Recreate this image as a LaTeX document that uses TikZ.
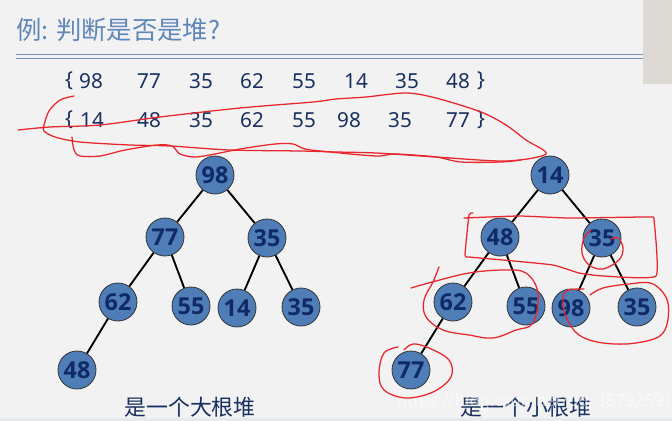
\documentclass[tikz,border=0pt]{standalone}
\usepackage{fontspec}
\setmainfont{Noto Sans}
\newfontfamily\cjk{Noto Sans CJK SC}
\newfontfamily\nodefont{Open Sans}
\definecolor{bgc}{HTML}{F2F2F2}
\definecolor{ttl}{HTML}{5F87B8}
\definecolor{rulec}{HTML}{7493C0}
\definecolor{navy}{HTML}{17305F}
\definecolor{nodefill}{HTML}{4F7DB8}
\definecolor{nodetxt}{HTML}{0F2A66}
\definecolor{ink}{HTML}{E8262C}
\definecolor{camc}{HTML}{DDD9D5}
\definecolor{strip}{HTML}{E6E9ED}
\tikzset{
  heap/.style={circle,draw=black!80,line width=.6pt,fill=nodefill,minimum size=28.5pt,inner sep=0pt,
    font=\nodefont\fontsize{17.5}{17.5}\selectfont\bfseries,text=nodetxt},
  treeedge/.style={draw=black,line width=1.4pt},
  num/.style={font=\fontsize{15.5}{16}\selectfont,text=navy,inner sep=0pt},
  caption/.style={font=\cjk\fontsize{16.4}{16.4}\selectfont,text=navy,inner sep=0pt},
  scribble/.style={draw=ink,line width=.95pt,line cap=round,line join=round},
  dbl/.style={draw=rulec,line width=.7pt}
}
\begin{document}
\begin{tikzpicture}[x=.75pt,y=-.75pt]
\useasboundingbox (0,0) rectangle (672,421);
\fill[bgc] (0,0) rectangle (672,421);
\fill[strip] (0,418) rectangle (672,421);
\fill[camc] (643,0) rectangle (672,84);
\node[anchor=west,inner sep=0pt,text=ttl,font=\cjk\fontsize{19}{19}\selectfont] (title) at (16,30) {例: 判断是否是堆?};
\coordinate (r1a) at (16,54); \coordinate (r1b) at (643,54);
\coordinate (r2a) at (16,58); \coordinate (r2b) at (643,58);
\draw[dbl] (r1a) -- (r1b);
\draw[dbl] (r2a) -- (r2b);
% rows
\foreach \n/\x/\t in {a0/69/\{,a1/91/98,a2/149/77,a3/201/35,a4/252/62,a5/304/55,a6/356/14,a7/407/35,a8/458/48,a9/481/\}}
  \node[num] (\n) at (\x,81) {\t};
\foreach \n/\x/\t in {b0/69/\{,b1/92/14,b2/149/48,b3/201/35,b4/252/62,b5/304/55,b6/349/98,b7/400/35,b8/458/77,b9/481/\}}
  \node[num] (\n) at (\x,120) {\t};
% left heap
\node[heap] (l1) at (215,175) {98};
\node[heap] (l2) at (165,237) {77};
\node[heap] (l3) at (267,238) {35};
\node[heap] (l4) at (118,302) {62};
\node[heap] (l5) at (191,306) {55};
\node[heap] (l6) at (237,308) {14};
\node[heap] (l7) at (301,307) {35};
\node[heap] (l8) at (77,370) {48};
\draw[treeedge] (l1) -- (l2);
\draw[treeedge] (l1) -- (l3);
\draw[treeedge] (l2) -- (l4);
\draw[treeedge] (l2) -- (l5);
\draw[treeedge] (l3) -- (l6);
\draw[treeedge] (l3) -- (l7);
\draw[treeedge] (l4) -- (l8);
% right heap
\node[heap] (m1) at (550,175) {14};
\node[heap] (m2) at (500,237) {48};
\node[heap] (m3) at (602,238) {35};
\node[heap] (m4) at (453,302) {62};
\node[heap] (m5) at (526,306) {55};
\node[heap] (m6) at (571,308) {98};
\node[heap] (m7) at (637,307) {35};
\node[heap] (m8) at (411,370) {77};
\draw[treeedge] (m1) -- (m2);
\draw[treeedge] (m1) -- (m3);
\draw[treeedge] (m2) -- (m4);
\draw[treeedge] (m2) -- (m5);
\draw[treeedge] (m3) -- (m6);
\draw[treeedge] (m3) -- (m7);
\draw[treeedge] (m4) -- (m8);
\node[caption] (c1) at (190,407) {是一个大根堆};
\node[caption] (c2) at (526,407) {是一个小根堆};
\node[inner sep=0pt,text=white,opacity=.55,font=\fontsize{12.6}{13}\selectfont] (wm) at (535,402) {https://blog.csdn.net/qq\_38792591};
% red annotations
\draw[scribble] plot[smooth,tension=.5] coordinates {(74,96)(60,100)(49,111)(44,125)(44,131)(55,137)(80,142)(130,145)(170,146)(230,150)(300,151)(336,152)(376,153)(436,157)(506,161)(546,154)(526,140)(506,125)(481,112)(436,98)(406,93)(366,97)(336,99)(313,102)(240,108)(160,117)(100,125)(50,127)(18,130)};
\draw[scribble] plot[smooth,tension=.5] coordinates {(72,137)(74,150)(80,156)(100,156)(125,150)(157,145)(172,146)(180,154)(195,157)(215,154)(240,149)(275,144)(293,144)(305,149)(330,152)(376,156)(396,154)(436,157)(461,162)(501,162)(521,160)};
\draw[scribble] plot[smooth,tension=.25] coordinates {(473,213)(469,215)(465,255)(469,257)(503,260)(553,265)(579,273)(603,276)(656,276)(654,220)(649,217)(569,218)(519,216)(464,218)};
\draw[scribble] plot[smooth,tension=.6] coordinates {(611,239)(618,238)(623,248)(619,260)(603,269)(589,265)(582,253)(584,238)(591,230)};
\draw[scribble] plot[smooth,tension=.6] coordinates {(411,288)(436,281)(469,273)(503,270)(526,273)(538,293)(533,323)(516,330)(493,338)(469,335)(443,330)(426,317)(424,300)(433,282)(439,267)};
\draw[scribble] plot[smooth,tension=.6] coordinates {(590,295)(603,288)(629,284)(653,284)(668,303)(663,333)(636,343)(603,343)(579,335)(566,317)(563,297)(569,290)(584,289)};
\draw[scribble] plot[smooth,tension=.6] coordinates {(398,347)(384,353)(379,373)(384,390)(406,398)(433,392)(451,377)(449,360)(429,348)(413,344)(404,350)};
\end{tikzpicture}
\end{document}
